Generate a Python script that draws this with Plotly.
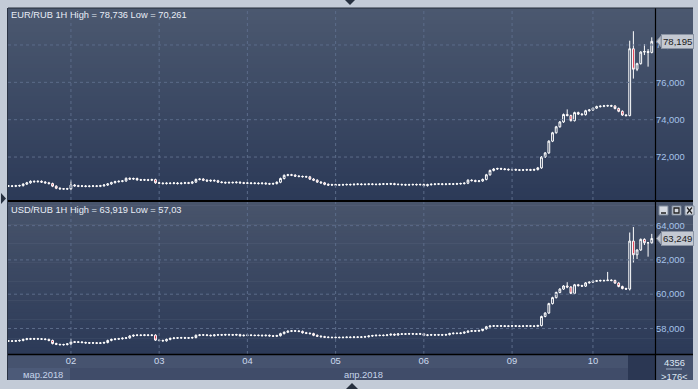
import plotly.graph_objects as go

W, H = 698, 389
def px(x): return x / W
def py(y): return 1 - y / H

# ---------------- data ----------------
eur_close = [
    70.45, 70.44, 70.46, 70.47, 70.55, 70.62, 70.70, 70.68, 70.70, 70.66,
    70.62, 70.58, 70.44, 70.33, 70.30, 70.29, 70.30, 70.50, 70.46, 70.44,
    70.45, 70.43, 70.44, 70.45, 70.44, 70.46, 70.50, 70.56, 70.63, 70.68,
    70.70, 70.72, 70.86, 70.82, 70.85, 70.78, 70.77, 70.78, 70.76, 70.79,
    70.62, 70.60, 70.58, 70.60, 70.59, 70.61, 70.58, 70.60, 70.62, 70.60,
    70.66, 70.80, 70.82, 70.76, 70.72, 70.75, 70.73, 70.66, 70.64, 70.62,
    70.64, 70.63, 70.65, 70.62, 70.60, 70.61, 70.59, 70.60, 70.58, 70.60,
    70.57, 70.56, 70.58, 70.65, 70.85, 71.02, 71.05, 71.03, 70.98, 70.96,
    70.95, 70.94, 70.82, 70.76, 70.66, 70.62, 70.54, 70.50, 70.52, 70.50,
    70.51, 70.52, 70.53, 70.52, 70.54, 70.55, 70.53, 70.54, 70.55, 70.54,
    70.53, 70.55, 70.56, 70.55, 70.57, 70.54, 70.53, 70.52, 70.51, 70.52,
    70.53, 70.52, 70.53, 70.47, 70.52, 70.54, 70.55, 70.56, 70.54, 70.55,
    70.56, 70.55, 70.57, 70.58, 70.60, 70.76, 70.74, 70.70, 70.72, 70.80,
    71.05, 71.28, 71.36, 71.38, 71.36, 71.34, 71.32, 71.33, 71.31, 71.30,
    71.31, 71.32, 71.30, 71.33, 71.42, 72.00, 72.22, 72.85, 73.30, 73.62,
    73.88, 74.28, 74.22, 73.95, 74.38, 74.30, 74.27, 74.48, 74.52, 74.62,
    74.70, 74.72, 74.74, 74.75, 74.73, 74.60, 74.45, 74.25, 74.22, 77.80,
    76.70, 77.00, 77.62, 77.65, 77.60, 78.195,
]
eur_first_open = 70.45
eur_wicks = {15: (70.33, 70.261), 17: (70.75, 70.22), 152: (74.55, 74.18),
             169: (78.23, 74.18), 170: (78.736, 76.20), 171: (77.05, 76.60),
             173: (78.05, 77.46), 174: (77.78, 76.84), 175: (78.41, 77.55)}

usd_close = [
    57.27, 57.26, 57.28, 57.30, 57.36, 57.40, 57.38, 57.40, 57.39, 57.38,
    57.36, 57.30, 57.12, 57.08, 57.05, 57.06, 57.10, 57.22, 57.20, 57.21,
    57.18, 57.16, 57.15, 57.16, 57.14, 57.15, 57.18, 57.30, 57.36, 57.38,
    57.40, 57.43, 57.45, 57.56, 57.60, 57.61, 57.60, 57.62, 57.60, 57.61,
    57.32, 57.30, 57.28, 57.36, 57.42, 57.44, 57.45, 57.46, 57.44, 57.45,
    57.47, 57.60, 57.62, 57.62, 57.60, 57.58, 57.62, 57.63, 57.62, 57.64,
    57.63, 57.62, 57.64, 57.58, 57.60, 57.61, 57.60, 57.59, 57.60, 57.58,
    57.60, 57.57, 57.55, 57.58, 57.70, 57.78, 57.84, 57.86, 57.85, 57.83,
    57.75, 57.72, 57.70, 57.60, 57.55, 57.52, 57.49, 57.48, 57.47, 57.48,
    57.47, 57.48, 57.49, 57.48, 57.50, 57.49, 57.50, 57.52, 57.56, 57.58,
    57.60, 57.59, 57.60, 57.62, 57.66, 57.62, 57.68, 57.67, 57.68, 57.69,
    57.68, 57.67, 57.69, 57.60, 57.62, 57.63, 57.62, 57.63, 57.62, 57.64,
    57.70, 57.72, 57.71, 57.73, 57.78, 57.84, 57.86, 57.85, 57.88, 57.98,
    58.10, 58.14, 58.15, 58.14, 58.15, 58.13, 58.14, 58.15, 58.14, 58.13,
    58.14, 58.15, 58.14, 58.13, 58.17, 58.70, 58.90, 59.45, 59.80, 60.10,
    60.30, 60.48, 60.42, 60.05, 60.55, 60.50, 60.47, 60.66, 60.70, 60.76,
    60.78, 60.80, 60.79, 60.82, 60.80, 60.65, 60.45, 60.33, 60.30, 63.10,
    62.30, 62.58, 63.20, 63.00, 63.00, 63.249,
]
usd_first_open = 57.27
usd_wicks = {14: (57.09, 57.03), 17: (57.40, 57.05), 152: (60.70, 60.35),
             163: (61.30, 60.77), 169: (63.60, 60.22), 170: (63.919, 61.85),
             171: (62.62, 62.05), 173: (63.26, 62.87), 174: (63.05, 62.19),
             175: (63.52, 62.95)}

day_index = [17, 41, 65, 89, 113, 137, 159]
day_labels = ["02", "03", "04", "05", "06", "09", "10"]
eur_ticks = [72, 74, 76, 78]
eur_ticktext = ["72,000", "74,000", "76,000", "78,000"]
usd_ticks = [58, 60, 62, 64]
usd_ticktext = ["58,000", "60,000", "62,000", "64,000"]
eur_title = "EUR/RUB 1H High = 78,736 Low = 70,261"
usd_title = "USD/RUB 1H High = 63,919 Low = 57,03"
eur_last_text = "78,195"
usd_last_text = "63,249"
month_labels = ["мар.2018", "апр.2018"]
bar_total = "4356"
bar_visible = ">176<"

# ---------------- build OHLC ----------------
def build(close, first_open, wicks, tick):
    opens = [first_open] + close[:-1]
    highs, lows = [], []
    for i, (o, c) in enumerate(zip(opens, close)):
        if i in wicks:
            highs.append(wicks[i][0]); lows.append(wicks[i][1])
        else:
            highs.append(max(o, c) + tick); lows.append(min(o, c) - tick)
    return opens, highs, lows

idx = list(range(len(eur_close)))
eo, eh, el = build(eur_close, eur_first_open, eur_wicks, 0.05)
uo, uh, ul = build(usd_close, usd_first_open, usd_wicks, 0.05)

FONT = "Liberation Sans"
GRID = "#5c6c8a"
RED = "#e0142c"
XL, XR = 8, 655
TOP = (8, 200)
BOT = (202, 354)
xrange = [-0.12, 175.88]
eur_range = [69.70, 79.98]
usd_range = [56.51, 65.38]

fig = go.Figure()

def grid_traces(xa, ya, yr, yticks):
    gx, gy = [], []
    for d in day_index:
        gx += [d, d, None]; gy += [yr[0], yr[1], None]
    for t in yticks:
        gx += [xrange[0], xrange[1], None]; gy += [t, t, None]
    fig.add_trace(go.Scatter(x=gx, y=gy, xaxis=xa, yaxis=ya, mode="lines",
                             line=dict(color=GRID, width=1, dash="3px,3px"),
                             hoverinfo="skip", showlegend=False))

def candle(o, h, l, c, xa, ya):
    fig.add_trace(go.Candlestick(
        x=idx, open=o, high=h, low=l, close=c, xaxis=xa, yaxis=ya,
        increasing=dict(line=dict(color="white", width=1), fillcolor="rgba(0,0,0,0)"),
        decreasing=dict(line=dict(color="white", width=1), fillcolor=RED),
        whiskerwidth=0, showlegend=False, hoverinfo="skip"))

grid_traces("x", "y", eur_range, eur_ticks)
grid_traces("x2", "y2", usd_range, usd_ticks)
candle(eo, eh, el, eur_close, "x", "y")
candle(uo, uh, ul, usd_close, "x2", "y2")

# ---------------- styling ----------------
shapes = []
def rect(x0, y0, x1, y1, color, line=None, layer="below"):
    shapes.append(dict(type="rect", xref="paper", yref="paper", x0=px(x0), x1=px(x1),
                       y0=py(y1), y1=py(y0), fillcolor=color, layer=layer,
                       line=dict(width=0) if line is None else line))

def gradient(y0, y1, c0, c1, n=48):
    step = (y1 - y0) / n
    for k in range(n):
        t = k / (n - 1)
        col = tuple(round(c0[j] + (c1[j] - c0[j]) * t) for j in range(3))
        rect(XL, y0 + k * step, 693, y0 + (k + 1) * step + 0.6, "rgb(%d,%d,%d)" % col)

gradient(TOP[0], TOP[1], (75, 88, 111), (44, 58, 88))
gradient(BOT[0], BOT[1], (72, 84, 107), (44, 58, 88))
# x-axis band
rect(XL, 355, XR, 368, "#46536f")
rect(XL, 368, XR, 380, "#404c69")
rect(XL, 368, 70, 380, "#4c5a78")
rect(628, 355, XR, 380, "#2b3753")
rect(XR, 355, 693, 380, "#44516d")

def line(x0, y0, x1, y1, color, w=1):
    shapes.append(dict(type="line", xref="paper", yref="paper", x0=px(x0), x1=px(x1),
                       y0=py(y0), y1=py(y1), line=dict(color=color, width=w), layer="above"))

line(XR + 0.5, 8, XR + 0.5, 380, "black", 1.2)
line(XL, 201, 693, 201, "black", 2)
line(XL, 354.5, 693, 354.5, "black", 1.5)
line(XL, 8, 693, 8, "#222a38", 1)
line(XL - 0.5, 8, XL - 0.5, 380, "#2a3344", 1)
line(666, 369, 682, 369, "#9fb0c8", 1)

def tri(path, color):
    shapes.append(dict(type="path", xref="paper", yref="paper", path=path,
                       fillcolor=color, line=dict(width=0), layer="above"))
def P(x, y): return "%f,%f" % (px(x), py(y))
tri("M" + P(1, 193) + " L" + P(6, 198.5) + " L" + P(1, 204) + " Z", "#27303f")
tri("M" + P(345, 0) + " L" + P(355, 0) + " L" + P(350, 5) + " Z", "#27303f")
tri("M" + P(346, 389) + " L" + P(358, 389) + " L" + P(352, 383) + " Z", "#27303f")

# window buttons
for bx in (659, 672, 685):
    rect(bx, 206, bx + 9, 215, "#d6dae2", line=dict(color="#7d8899", width=1), layer="above")
line(661, 213, 666, 213, "#202020", 1.5)
rect(674, 208, 679, 213, "rgba(0,0,0,0)", line=dict(color="#202020", width=1.3), layer="above")
line(687, 207.5, 692, 213.5, "#202020", 1.2)
line(687, 213.5, 692, 207.5, "#202020", 1.2)

annotations = []
def tag(yref, value, text, half):
    shapes.append(dict(type="path", xref="paper", yref=yref,
                       path="M%f,%f L%f,%f L%f,%f Z" % (px(661), value + half, px(656.5), value, px(661), value - half),
                       fillcolor="#c4c9d2", line=dict(color="#8a93a3", width=1), layer="above"))
    annotations.append(dict(xref="paper", yref=yref, x=px(660.5), y=value, xanchor="left", yanchor="middle",
                            text=text, showarrow=False, bgcolor="#c4c9d2", bordercolor="#8a93a3",
                            borderwidth=1, borderpad=1, font=dict(family=FONT, size=9.6, color="#1a1a1a")))

eur_pxu = 192 / (eur_range[1] - eur_range[0])
usd_pxu = 152 / (usd_range[1] - usd_range[0])
tag("y", eur_close[-1], eur_last_text, 5.5 / eur_pxu)
tag("y2", usd_close[-1], usd_last_text, 5.5 / usd_pxu)

def text(x, y, s, color, size=9.4, anchor="left"):
    annotations.append(dict(xref="paper", yref="paper", x=px(x), y=py(y), text=s, showarrow=False,
                            xanchor=anchor, yanchor="middle", borderpad=0,
                            font=dict(family=FONT, size=size, color=color)))

text(10, 15, eur_title, "#e8edf6", 9.3)
text(10, 210, usd_title, "#e8edf6", 9.3)
text(22, 374, month_labels[0], "#c6d4ea", 9.4)
text(343, 374, month_labels[1], "#c6d4ea", 9.4)
text(674, 362, bar_total, "#dfe7f3", 9.4, "center")
text(674, 376, bar_visible, "#dfe7f3", 9.4, "center")

common_x = dict(domain=[px(XL), px(XR)], range=xrange, tickvals=day_index,
                showgrid=False, zeroline=False, showline=False, ticks="",
                rangeslider=dict(visible=False), fixedrange=True)
common_y = dict(side="right", showgrid=False, zeroline=False, showline=False, ticks="",
                tickfont=dict(family=FONT, size=9.4, color="#a6c3ea"))

fig.update_layout(
    width=W, height=H, margin=dict(l=0, r=0, t=0, b=0),
    paper_bgcolor="#c3cbd7", plot_bgcolor="rgba(0,0,0,0)",
    boxgap=0.3,
    xaxis=dict(anchor="y", showticklabels=False, **common_x),
    xaxis2=dict(anchor="y2", matches="x", ticktext=day_labels, showticklabels=True,
                tickfont=dict(family=FONT, size=9.4, color="#cddaee"), **common_x),
    yaxis=dict(domain=[py(TOP[1]), py(TOP[0])], range=eur_range, anchor="x",
               tickvals=eur_ticks, ticktext=eur_ticktext, **common_y),
    yaxis2=dict(domain=[py(BOT[1]), py(BOT[0])], range=usd_range, anchor="x2",
                tickvals=usd_ticks, ticktext=usd_ticktext, **common_y),
    shapes=shapes, annotations=annotations, showlegend=False,
)

fig.write_html("out.html")
